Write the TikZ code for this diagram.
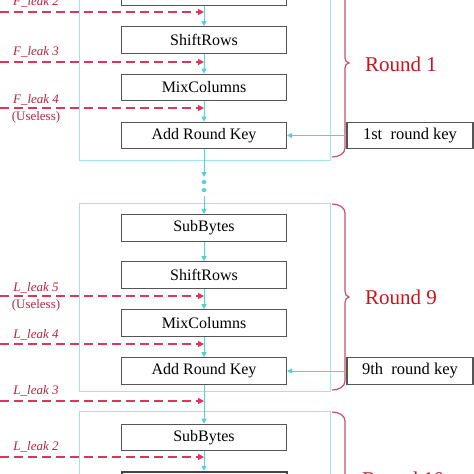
\documentclass[tikz,border=0pt]{standalone}
\usepackage{fontspec}
\setmainfont{Liberation Serif}
\usetikzlibrary{arrows.meta,shapes.geometric}
\definecolor{flow}{RGB}{85,208,222}
\definecolor{framec}{RGB}{160,228,236}
\definecolor{leakline}{RGB}{222,52,92}
\definecolor{leaktext}{RGB}{185,35,65}
\definecolor{bracec}{RGB}{200,80,110}
\definecolor{roundc}{RGB}{200,20,30}
\definecolor{boxc}{RGB}{85,85,85}
\tikzset{
  opbox/.style={draw=boxc,line width=1.1pt,minimum width=165pt,minimum height=26.5pt,inner sep=0pt,font=\fontsize{16}{18}\selectfont},
  keybox/.style={draw=boxc,line width=1.1pt,minimum width=126pt,minimum height=26.5pt,inner sep=0pt,font=\fontsize{16.5}{18}\selectfont},
  flowarr/.style={draw=flow,line width=1pt,-{Triangle[length=5pt,width=5pt]}},
  leakarr/.style={draw=leakline,line width=1.2pt,dash pattern=on 9pt off 5pt,-{Triangle[length=6pt,width=6pt]}},
  leaklab/.style={text=leaktext,font=\fontsize{13}{14}\selectfont\itshape,inner sep=0pt},
  uselab/.style={text=leaktext,font=\fontsize{13}{14}\selectfont,inner sep=0pt},
  roundframe/.style={draw=framec,line width=0.9pt},
  roundlab/.style={text=roundc,font=\fontsize{21}{24}\selectfont,anchor=west,inner sep=0pt},
  bracepath/.style={draw=bracec,line width=1.2pt},
  flowdot/.style={fill=flow,ellipse,minimum width=5pt,minimum height=4pt,inner sep=0pt},
}
\begin{document}
\begin{tikzpicture}[x=1pt,y=-1pt]
\useasboundingbox (0,0) rectangle (474,474);
\clip (0,0) rectangle (474,474);
\fill[white] (0,0) rectangle (474,474);
% frames
\draw[roundframe] (79,-40) rectangle (330,160);
\draw[roundframe] (79,203) rectangle (330,391);
\draw[roundframe] (79,411) rectangle (330,620);
% braces
\draw[bracepath] (332,-40) to[out=0,in=90] (345,-30) -- (345,58) to[out=-90,in=180] (349,63) to[out=180,in=90] (345,68) -- (345,148) to[out=-90,in=0] (332,157);
\draw[bracepath] (332,204) to[out=0,in=90] (345,213) -- (345,291) to[out=-90,in=180] (349,297) to[out=180,in=90] (345,303) -- (345,381) to[out=-90,in=0] (332,390);
\draw[bracepath] (332,412) to[out=0,in=90] (345,421) -- (345,600);
\node[roundlab] (r1) at (365,64) {Round 1};
\node[roundlab] (r9) at (365,297) {Round 9};
\node[roundlab] (r10) at (362,479) {Round 10};
% round 1 boxes
\node[opbox] (sb1) at (204,-8) {};
\node[opbox] (sr1) at (204,40) {ShiftRows};
\node[opbox] (mc1) at (204,87.5) {MixColumns};
\node[opbox] (ark1) at (204,135.5) {Add Round Key};
\node[keybox] (k1) at (410,135.5) {1st\ \ round key};
% round 9 boxes
\node[opbox] (sb9) at (204,228) {SubBytes};
\node[opbox] (sr9) at (204,275) {ShiftRows};
\node[opbox] (mc9) at (204,323) {MixColumns};
\node[opbox] (ark9) at (204,371) {Add Round Key};
\node[keybox] (k9) at (410,371) {9th\ \ round key};
% round 10 boxes
\node[opbox] (sb10) at (204,437.5) {SubBytes};
\node[opbox,draw=boxc!80!black,line width=2pt] (sr10) at (204,485) {};
% dots between rounds
\coordinate (gapa) at (204,177);
\node[flowdot] (d1) at (204,182) {};
\node[flowdot] (d2) at (204,190) {};
\coordinate (gapb) at (204,196);
% flow arrows
\draw[flowarr] (sb1) -- (sr1);
\draw[flowarr] (sr1) -- (mc1);
\draw[flowarr] (mc1) -- (ark1);
\draw[flowarr] (ark1) -- (gapa);
\draw[flowarr] (gapb) -- (sb9);
\draw[flowarr] (sb9) -- (sr9);
\draw[flowarr] (sr9) -- (mc9);
\draw[flowarr] (mc9) -- (ark9);
\draw[flowarr] (ark9) -- (sb10);
\draw[flowarr] (sb10) -- (sr10);
\draw[flowarr] (k1) -- (ark1);
\draw[flowarr] (k9) -- (ark9);
% leak arrows
\coordinate (fs2) at (0,12);   \coordinate (fe2) at (204,12);
\coordinate (fs3) at (0,62);   \coordinate (fe3) at (204,62);
\coordinate (fs4) at (0,108);  \coordinate (fe4) at (204,108);
\coordinate (ls5) at (0,296);  \coordinate (le5) at (204,296);
\coordinate (ls4) at (0,344);  \coordinate (le4) at (204,344);
\coordinate (ls3) at (0,401);  \coordinate (le3) at (204,401);
\coordinate (ls2) at (0,457);  \coordinate (le2) at (204,457);
\draw[leakarr] (fs2) -- (fe2);
\draw[leakarr] (fs3) -- (fe3);
\draw[leakarr] (fs4) -- (fe4);
\draw[leakarr] (ls5) -- (le5);
\draw[leakarr] (ls4) -- (le4);
\draw[leakarr] (ls3) -- (le3);
\draw[leakarr] (ls2) -- (le2);
\node[leaklab] (lf2) at (36,2) {F\_leak 2};
\node[leaklab] (lf3) at (36,52) {F\_leak 3};
\node[leaklab] (lf4) at (36,100) {F\_leak 4};
\node[uselab] (uf4) at (36,117) {(Useless)};
\node[leaklab] (ll5) at (36,288) {L\_leak 5};
\node[uselab] (ul5) at (36,305) {(Useless)};
\node[leaklab] (ll4) at (36,335) {L\_leak 4};
\node[leaklab] (ll3) at (36,391) {L\_leak 3};
\node[leaklab] (ll2) at (36,447) {L\_leak 2};
\end{tikzpicture}
\end{document}
